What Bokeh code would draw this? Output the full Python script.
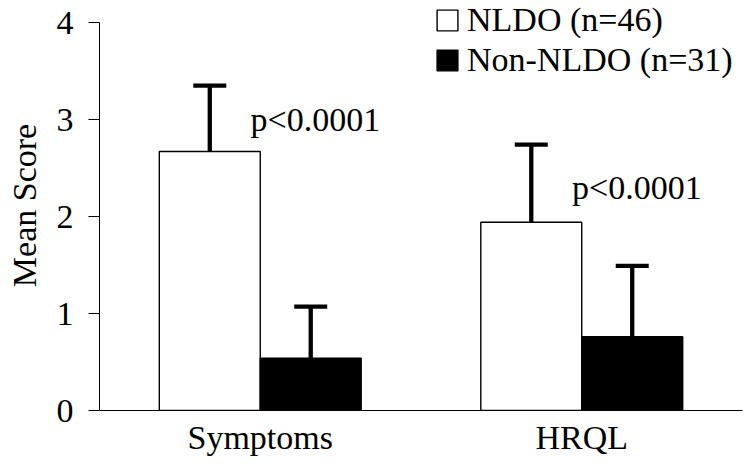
from bokeh.plotting import figure
from bokeh.models import (FactorRange, Range1d, Whisker, TeeHead, ColumnDataSource,
                          Legend, LegendItem, FixedTicker)
from bokeh.transform import dodge
from bokeh.core.properties import value
from bokeh.embed import file_html
from bokeh.resources import INLINE

# ---- data ----
categories = ["Symptoms", "HRQL"]
nldo_mean = [2.67, 1.94]
nldo_err = [0.68, 0.80]
non_mean = [0.54, 0.76]
non_err = [0.53, 0.73]
series_labels = ["NLDO (n=46)", "Non-NLDO (n=31)"]
p_texts = ["p<0.0001", "p<0.0001"]
y_ticks = [0, 1, 2, 3, 4]

# annotation positions (y of p-value text baselines)
p_label_y = [3.0, 2.30]

FONT = "Liberation Serif"

src = ColumnDataSource(dict(
    cat=categories,
    nldo=nldo_mean,
    nldo_up=[m + e for m, e in zip(nldo_mean, nldo_err)],
    non=non_mean,
    non_up=[m + e for m, e in zip(non_mean, non_err)],
    ptxt=p_texts,
    py=p_label_y,
))

p = figure(x_range=FactorRange(factors=categories, range_padding=0),
           y_range=Range1d(0, 4 + 22 / 97),
           frame_width=643, frame_height=410,
           min_border_left=99, min_border_top=0, min_border_right=4, min_border_bottom=50,
           output_backend="svg", toolbar_location=None)

p.outline_line_color = None
p.xgrid.grid_line_color = None
p.ygrid.grid_line_color = None
p.background_fill_color = "white"

w = 0.314
off = 0.157

r1 = p.vbar(x=dodge("cat", -off, range=p.x_range), top="nldo", width=w, bottom=0,
            fill_color="white", line_color="black", line_width=1.4, source=src)
r2 = p.vbar(x=dodge("cat", off, range=p.x_range), top="non", width=w, bottom=0,
            fill_color="black", line_color="black", line_width=1.4, source=src)

for key_mean, key_up, o in (("nldo", "nldo_up", -off), ("non", "non_up", off)):
    wh = Whisker(base=dodge("cat", o, range=p.x_range), lower=key_mean, upper=key_up,
                 source=src, dimension="height", line_color="black", line_width=4.3,
                 upper_head=TeeHead(size=33, line_width=4.3, line_color="black"),
                 lower_head=None)
    p.add_layout(wh)

p.text(x=dodge("cat", -0.03, range=p.x_range), y="py", text="ptxt", source=src,
       text_font=value(FONT), text_font_size=value("34px"), text_color="black",
       text_align="left", text_baseline="alphabetic")

# axes
ya = p.yaxis[0]
ya.ticker = FixedTicker(ticks=y_ticks)
ya.bounds = (0, 4)
ya.axis_label = "Mean Score"
ya.axis_label_text_font = FONT
ya.axis_label_text_font_size = "34px"
ya.axis_label_text_font_style = "normal"
ya.axis_label_text_color = "black"
ya.axis_label_standoff = 11
ya.major_label_text_font = FONT
ya.major_label_text_font_size = "34px"
ya.major_label_text_color = "black"
ya.major_label_standoff = 15
ya.major_tick_in = 0
ya.major_tick_out = 11
ya.minor_tick_in = 0
ya.minor_tick_out = 0
ya.axis_line_color = "black"
ya.major_tick_line_color = "black"

xa = p.xaxis[0]
xa.major_label_text_font = FONT
xa.major_label_text_font_size = "34px"
xa.major_label_text_color = "black"
xa.major_label_standoff = 8
xa.major_tick_in = 0
xa.major_tick_out = 0
xa.minor_tick_in = 0
xa.minor_tick_out = 0
xa.axis_line_color = "black"

legend = Legend(items=[LegendItem(label=series_labels[0], renderers=[r1]),
                       LegendItem(label=series_labels[1], renderers=[r2])],
                location=(335, 331), padding=0, margin=0,
                border_line_alpha=0, background_fill_alpha=0,
                glyph_width=26, glyph_height=26, label_standoff=7, spacing=2,
                label_text_font=FONT, label_text_font_size="34px",
                label_text_color="black")
p.add_layout(legend)

open("out.html", "w").write(file_html(p, INLINE))
